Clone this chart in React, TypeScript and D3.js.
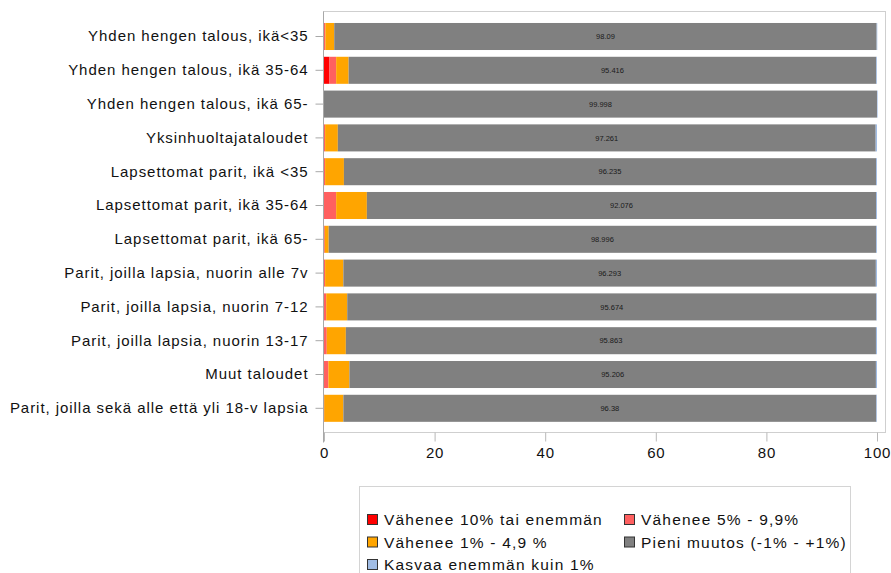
import React, { useEffect, useRef } from 'react';
import * as d3 from 'd3';

const categories = [
  'Yhden hengen talous, ikä<35',
  'Yhden hengen talous, ikä 35-64',
  'Yhden hengen talous, ikä 65-',
  'Yksinhuoltajataloudet',
  'Lapsettomat parit, ikä <35',
  'Lapsettomat parit, ikä 35-64',
  'Lapsettomat parit, ikä 65-',
  'Parit, joilla lapsia, nuorin alle 7v',
  'Parit, joilla lapsia, nuorin 7-12',
  'Parit, joilla lapsia, nuorin 13-17',
  'Muut taloudet',
  'Parit, joilla sekä alle että yli 18-v lapsia',
];

// shares of households (%), per change class
const dec10 = [0, 1.0, 0, 0, 0, 0, 0, 0, 0, 0, 0, 0];
const dec5 = [0.25, 1.2, 0, 0.2, 0.2, 2.2, 0.15, 0.2, 0.4, 0.5, 0.8, 0.05];
const dec1 = [1.6, 2.25, 0, 2.3, 3.4, 5.55, 0.7, 3.3, 3.8, 3.45, 3.8, 3.45];
const small = [98.09, 95.416, 99.998, 97.261, 96.235, 92.076, 98.996, 96.293, 95.674, 95.863, 95.206, 96.38];
const inc1 = [0.06, 0.134, 0.002, 0.239, 0.165, 0.174, 0.154, 0.207, 0.126, 0.187, 0.194, 0.12];

const seriesNames = [
  'Vähenee 10% tai enemmän',
  'Vähenee 5% - 9,9%',
  'Vähenee 1% - 4,9 %',
  'Pieni muutos (-1% - +1%)',
  'Kasvaa enemmän kuin 1%',
];
const colors = ['#FF0000', '#FF6060', '#FFA500', '#808080', '#A0BCE4'];
const xTicks = [0, 20, 40, 60, 80, 100];

const FONT = '"Liberation Sans", Arial, sans-serif';

const App: React.FC = () => {
  const svgRef = useRef<SVGSVGElement>(null);

  useEffect(() => {
    if (!svgRef.current) return;
    document.body.style.margin = '0';

    const width = 891;
    const height = 573;
    const frame = { left: 323.5, right: 885.5, top: 11.5, bottom: 432.5 };

    const svg = d3.select(svgRef.current);
    svg.selectAll('*').remove();
    svg.attr('width', width).attr('height', height);

    svg.append('rect').attr('width', width).attr('height', height).attr('fill', '#fff');

    const rows = categories.map((c, i) => ({
      name: c,
      values: [dec10[i], dec5[i], dec1[i], small[i], inc1[i]],
    }));

    const x = d3.scaleLinear().domain([0, 100]).range([324, 877]);
    const y = d3.scaleBand<string>()
      .domain(categories)
      .range([19.6, 425.2])
      .paddingInner(0.2)
      .paddingOuter(0.1);

    // Plot frame
    svg.append('rect')
      .attr('x', frame.left)
      .attr('y', frame.top)
      .attr('width', frame.right - frame.left)
      .attr('height', frame.bottom - frame.top)
      .attr('fill', 'none')
      .attr('stroke', '#cfcfcf');

    // Bars
    const g = svg.append('g');
    rows.forEach(r => {
      let acc = 0;
      r.values.forEach((v, k) => {
        if (v <= 0) { return; }
        g.append('rect')
          .attr('x', x(acc))
          .attr('y', y(r.name)!)
          .attr('width', Math.max(x(acc + v) - x(acc), 0.6))
          .attr('height', y.bandwidth())
          .attr('fill', colors[k]);
        if (k === 3) {
          g.append('text')
            .attr('x', (x(acc) + x(acc + v)) / 2)
            .attr('y', y(r.name)! + y.bandwidth() / 2)
            .attr('dy', '0.35em')
            .attr('text-anchor', 'middle')
            .attr('font-family', FONT)
            .attr('font-size', '7.5px')
            .attr('fill', '#1a1a1a')
            .text(String(v));
        }
        acc += v;
      });
    });

    // Y axis
    const yAxis = d3.axisLeft(y).tickSize(8).tickPadding(7).tickSizeOuter(0);
    svg.append('g')
      .attr('transform', `translate(${frame.left},0)`)
      .call(yAxis)
      .call(s => s.select('.domain').attr('stroke', '#a8a8a8').attr('d', `M0,${frame.top}V${frame.bottom + 10}`))
      .call(s => s.selectAll('.tick line').attr('stroke', '#a8a8a8'))
      .call(s => s.selectAll('.tick text')
        .attr('fill', '#111')
        .attr('font-family', FONT)
        .attr('font-size', '15px')
        .attr('letter-spacing', '0.95px'));

    // X axis
    const xAxis = d3.axisBottom(x).tickValues(xTicks).tickSize(9).tickPadding(6).tickSizeOuter(0)
      .tickFormat(d3.format('d') as any);
    svg.append('g')
      .attr('transform', `translate(0,${frame.bottom})`)
      .call(xAxis)
      .call(s => s.select('.domain').remove())
      .call(s => s.selectAll('.tick line').attr('stroke', '#b8b8b8'))
      .call(s => s.selectAll('.tick text')
        .attr('fill', '#111')
        .attr('font-family', FONT)
        .attr('font-size', '15px')
        .attr('letter-spacing', '0.8px'));

    // Legend
    svg.append('rect')
      .attr('x', 359.5)
      .attr('y', 486.5)
      .attr('width', 491)
      .attr('height', 110)
      .attr('fill', '#fff')
      .attr('stroke', '#d4d4d4');

    const legendPos = [
      [367, 520], [624, 520],
      [367, 542.5], [624, 542.5],
      [367, 565],
    ];
    seriesNames.forEach((name, k) => {
      const [lx, ly] = legendPos[k];
      const lg = svg.append('g').attr('transform', `translate(${lx},${ly})`);
      lg.append('rect')
        .attr('x', 0.5).attr('y', -5.5)
        .attr('width', 10).attr('height', 10)
        .attr('fill', colors[k])
        .attr('stroke', '#333');
      lg.append('text')
        .attr('x', 17)
        .attr('y', 0)
        .attr('dy', '0.35em')
        .attr('font-family', FONT)
        .attr('font-size', '15.5px')
        .attr('letter-spacing', '1.2px')
        .attr('fill', '#111')
        .text(name);
    });
  }, []);

  return (
    <div style={{ position: 'absolute', left: 0, top: 0 }}>
      <svg ref={svgRef} style={{ display: 'block' }} />
    </div>
  );
};

export default App;
